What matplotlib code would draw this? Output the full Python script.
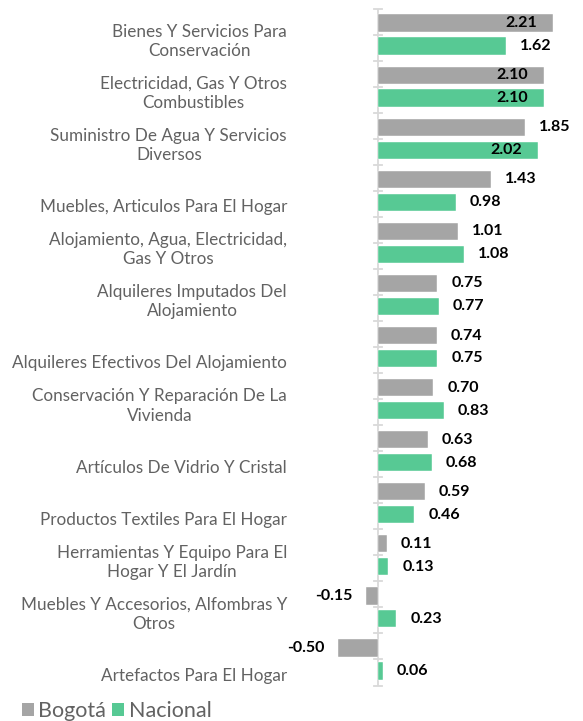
import matplotlib
matplotlib.use("Agg")
import matplotlib.pyplot as plt
import numpy as np
from matplotlib.patches import Patch
from matplotlib.transforms import blended_transform_factory

categories = [
    "Bienes Y Servicios Para\nConservación",
    "Electricidad, Gas Y Otros\nCombustibles",
    "Suministro De Agua Y Servicios\nDiversos",
    "Muebles, Articulos Para El Hogar",
    "Alojamiento, Agua, Electricidad,\nGas Y Otros",
    "Alquileres Imputados Del\nAlojamiento",
    "Alquileres Efectivos Del Alojamiento",
    "Conservación Y Reparación De La\nVivienda",
    "Artículos De Vidrio Y Cristal",
    "Productos Textiles Para El Hogar",
    "Herramientas Y Equipo Para El\nHogar Y El Jardín",
    "Muebles Y Accesorios, Alfombras Y\nOtros",
    "Artefactos Para El Hogar",
]
bogota = [2.21, 2.10, 1.85, 1.43, 1.01, 0.75, 0.74, 0.70, 0.63, 0.59, 0.11, -0.15, -0.50]
nacional = [1.62, 2.10, 2.02, 0.98, 1.08, 0.77, 0.75, 0.83, 0.68, 0.46, 0.13, 0.23, 0.06]
series_names = ["Bogotá", "Nacional"]

GRAY = "#A5A5A5"
GREEN = "#57C994"
FONT = ["Lato", "DejaVu Sans"]

W, H = 583, 721
fig = plt.figure(figsize=(W / 100, H / 100), dpi=100)

# axes: x pixels 290..583, y pixels 8.5..685.5
left_px, right_px = 290, 583
top_px, bot_px = 8.5, 685.5
ax = fig.add_axes([left_px / W, 1 - bot_px / H, (right_px - left_px) / W, (bot_px - top_px) / H])

ppu = 79.2
zero_px = 378
ax.set_xlim((left_px - zero_px) / ppu, (right_px - zero_px) / ppu)
n = len(categories)
ax.set_ylim(n - 0.5, -0.5)

y = np.arange(n)
off = 0.22
h = 0.33
ax.barh(y - off, bogota, height=h, color=GRAY, edgecolor="white", linewidth=0.3, zorder=2)
ax.barh(y + off, nacional, height=h, color=GREEN, edgecolor="white", linewidth=0.3, zorder=2)

for s in ax.spines.values():
    s.set_visible(False)
ax.set_xticks([])
ax.axvline(0, color="#D9D9D9", linewidth=1.3, zorder=1)
ticks = np.arange(-0.5, n, 0.5)
for t in ticks:
    ax.plot([-0.055, 0.055], [t, t], color="#D9D9D9", linewidth=1.3, zorder=1, clip_on=False)
ax.set_yticks([])

gap = 14 / ppu
inset = 16 / ppu
limit = 1.95
for vals, dy in ((bogota, -off), (nacional, off)):
    for i, v in enumerate(vals):
        txt = f"{v:.2f}"
        kw = dict(va="center", fontsize=11.5, fontweight="bold", color="black", family=FONT, zorder=3)
        if v < 0:
            ax.text(v - gap, i + dy, txt, ha="right", **kw)
        elif v > limit:
            ax.text(v - inset, i + dy, txt, ha="right", **kw)
        else:
            ax.text(v + gap, i + dy, txt, ha="left", **kw)

tr = blended_transform_factory(fig.transFigure, ax.transData)
for i, c in enumerate(categories):
    ax.text(287 / W, i + 0.47, c, transform=tr, ha="right", va="bottom",
            multialignment="center", fontsize=12.3, color="#626262", family=FONT,
            linespacing=1.25, clip_on=False)

handles = [Patch(facecolor=GRAY), Patch(facecolor=GREEN)]
fig.legend(handles, series_names, loc="center left", bbox_to_anchor=(22 / W, 1 - 711 / H),
           ncol=2, frameon=False, handlelength=0.55, handleheight=0.55, handletextpad=0.2,
           columnspacing=0.3, borderaxespad=0, borderpad=0,
           prop={"family": FONT, "size": 15.5}, labelcolor="#626262")

fig.savefig("out.png", dpi=100)
